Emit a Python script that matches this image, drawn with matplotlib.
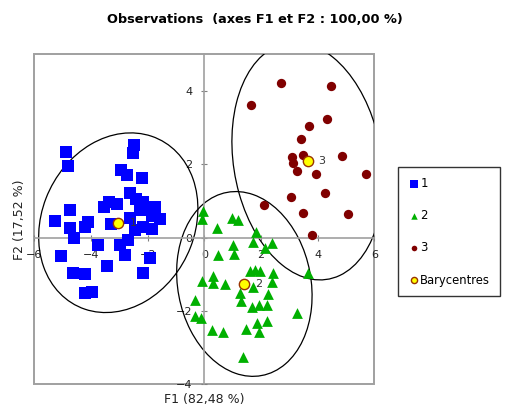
import matplotlib
matplotlib.use("Agg")
import matplotlib.pyplot as plt
from matplotlib.patches import Ellipse, Rectangle
import numpy as np

# observations (F1, F2)
blue_x = [-4.90, -4.81, -2.48, -2.53, -2.96, -2.72, -2.20, -2.63, -2.42, -3.37,
          -3.55, -3.10, -2.16, -1.75, -1.98, -2.28, -1.57, -1.86, -4.75, -5.28,
          -4.10, -4.75, -4.22, -4.61, -3.28, -2.63, -2.45, -1.86, -2.16, -3.75,
          -2.98, -2.69, -2.81, -5.07, -3.43, -1.92, -4.63, -4.22, -2.18, -4.22,
          -3.95]
blue_y = [2.34, 1.95, 2.53, 2.32, 1.86, 1.71, 1.62, 1.23, 1.07, 0.98,
          0.83, 0.92, 0.98, 0.83, 0.77, 0.75, 0.50, 0.59, 0.75, 0.46,
          0.44, 0.26, 0.28, -0.02, 0.37, 0.53, 0.21, 0.23, 0.30, -0.20,
          -0.20, -0.06, -0.47, -0.49, -0.76, -0.56, -0.95, -0.99, -0.95, -1.51,
          -1.47]

green_x = [-0.06, -0.10, 0.96, 1.20, 0.46, 1.82, 1.73, 1.00, 2.14, 2.38,
           0.47, 1.05, -0.10, 0.29, 0.31, 0.73, 1.61, 1.96, 1.79, 2.43,
           2.38, 1.73, 1.26, 1.29, 1.67, 1.94, 2.22, 2.26, -0.33, -0.33,
           -0.13, 0.26, 0.65, 1.47, 1.87, 2.22, 1.94, 1.37, 3.67, 3.26]
green_y = [0.73, 0.51, 0.54, 0.48, 0.27, 0.15, -0.11, -0.20, -0.29, -0.15,
           -0.47, -0.43, -1.18, -1.04, -1.24, -1.27, -0.91, -0.91, -0.88, -0.97,
           -1.22, -1.34, -1.51, -1.72, -1.88, -1.83, -1.83, -1.54, -1.70, -2.13,
           -2.18, -2.52, -2.58, -2.49, -2.33, -2.27, -2.56, -3.24, -0.97, -2.06]

red_x = [2.70, 4.47, 1.64, 4.32, 3.70, 3.42, 3.08, 3.47, 3.14, 3.28,
         3.94, 4.85, 5.69, 3.05, 4.27, 2.11, 3.47, 5.05, 3.79]
red_y = [4.22, 4.14, 3.62, 3.23, 3.04, 2.68, 2.19, 2.25, 2.03, 1.83,
         1.74, 2.23, 1.74, 1.10, 1.21, 0.89, 0.68, 0.65, 0.07]

bary_x = [-3.04, 1.41, 3.64]
bary_y = [0.41, -1.26, 2.09]
bary_labels = ["1", "2", "3"]

# confidence ellipses: half-extent in F1, in F2, and cross term
ell_sx = [2.81, 2.39, 2.67]
ell_sy = [2.45, 2.52, 3.24]
ell_sxy = [1.08, -0.76, -1.42]


def draw_ellipse(ax, cx, cy, sx, sy, sxy):
    m = np.array([[sx ** 2, sxy], [sxy, sy ** 2]])
    vals, vecs = np.linalg.eigh(m)
    angle = np.degrees(np.arctan2(vecs[1, 1], vecs[0, 1]))
    e = Ellipse((cx, cy), 2 * np.sqrt(vals[1]), 2 * np.sqrt(vals[0]),
                angle=angle, fill=False, edgecolor="black", lw=0.9, zorder=2)
    ax.add_patch(e)


fig = plt.figure(figsize=(5.09, 4.08), dpi=100)
ax = fig.add_axes([0.0676, 0.0578, 0.668, 0.8088])
ax.set_xlim(-6, 6)
ax.set_ylim(-4, 5)

for s in ["top", "right"]:
    ax.spines[s].set_visible(False)
for s in ["left", "bottom"]:
    ax.spines[s].set_position(("data", 0))
    ax.spines[s].set_color("#a0a0a0")
    ax.spines[s].set_linewidth(1.2)
ax.add_patch(Rectangle((0, 0), 1, 1, transform=ax.transAxes, fill=False,
                       edgecolor="#a0a0a0", lw=1.4, clip_on=False, zorder=1))

ax.set_xticks([-6, -4, -2, 0, 2, 4, 6])
ax.set_yticks([-4, -2, 0, 2, 4])
ax.tick_params(direction="inout", length=5, width=0.8, color="#808080",
               labelsize=8, labelcolor="#222222", pad=6)

for i in range(3):
    draw_ellipse(ax, bary_x[i], bary_y[i], ell_sx[i], ell_sy[i], ell_sxy[i])

ax.scatter(blue_x, blue_y, marker="s", s=80, c="#0000ff", lw=0, zorder=3, label="1")
ax.scatter(green_x, green_y, marker="^", s=60, c="#00b000", lw=0, zorder=3, label="2")
ax.scatter(red_x, red_y, marker="o", s=45, c="#800000", lw=0, zorder=3, label="3")
ax.scatter(bary_x, bary_y, marker="o", s=55, c="#ffff00", edgecolors="#993300",
           lw=1, zorder=4, label="Barycentres")
for bx, by, t in zip(bary_x, bary_y, bary_labels):
    ax.annotate(t, (bx, by), xytext=(8, 0), textcoords="offset points",
                va="center", fontsize=8, color="#333333", zorder=5)

ax.set_xlabel("F1 (82,48 %)", fontsize=9, color="#222222")
ax.xaxis.set_label_coords(0.5, -0.025)
ax.set_ylabel("F2 (17,52 %)", fontsize=9, color="#222222")
ax.yaxis.set_label_coords(-0.025, 0.5)

fig.suptitle("Observations  (axes F1 et F2 : 100,00 %)", fontsize=9.3,
             fontweight="bold", y=0.968)

leg = fig.legend(loc="upper left", bbox_to_anchor=(0.782, 0.591),
                 borderaxespad=0, fontsize=8.4,
                 frameon=True, fancybox=False, edgecolor="black",
                 labelspacing=1.65, handletextpad=0.05, handlelength=1.0,
                 borderpad=0.85, markerscale=0.6)
leg.get_frame().set_linewidth(1.0)

fig.savefig("out.png", dpi=100)
